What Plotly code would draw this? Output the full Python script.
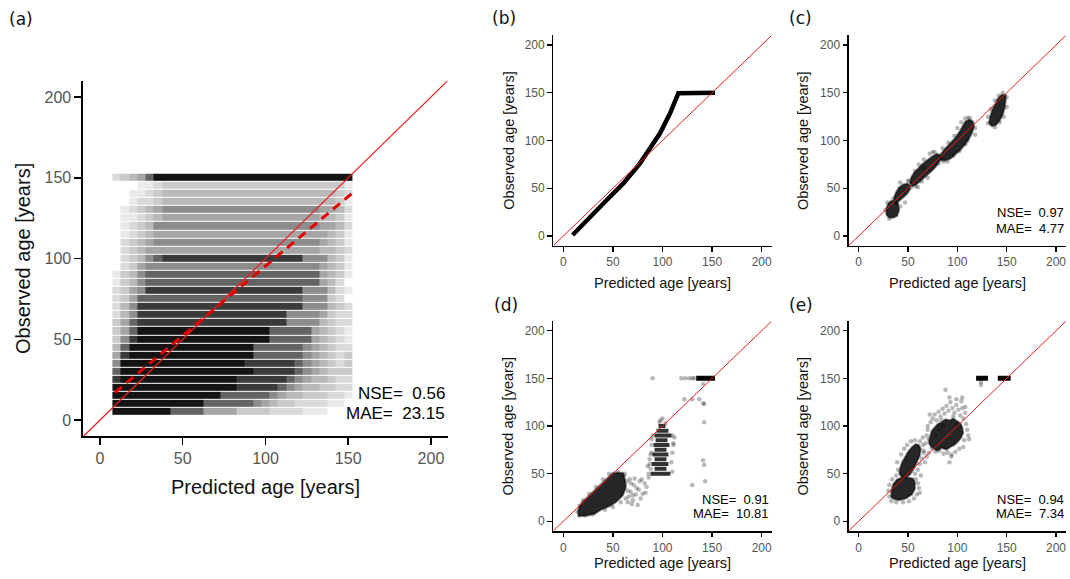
import plotly.graph_objects as go

W, H = 1070, 579

# ---------------- data ----------------
tick_vals = [0, 50, 100, 150, 200]
axis_range = [-10, 210]
one_to_one = [-10, 210]

# (a) all stands: point density per 5-year cell (0 = empty ... 9 = solid black)
a_pred_bins = [10, 15, 20, 25, 30, 35, 40, 45, 50, 55, 60, 65, 70, 75, 80,
               85, 90, 95, 100, 105, 110, 115, 120, 125, 130, 135, 140, 145, 150]
a_obs_rows = [150, 145, 140, 135, 130, 125, 120, 115, 110, 105, 100, 95, 90, 85, 80,
              75, 70, 65, 60, 55, 50, 45, 40, 35, 30, 25, 20, 15, 10, 5]
a_density = [
    "23457" "99999" "99999" "99999" "99999" "9999",
    "00011" "23333" "33333" "33333" "33333" "3331",
    "00112" "34444" "44444" "44444" "44444" "4432",
    "00122" "34444" "44444" "44444" "44444" "4431",
    "01234" "56666" "66666" "66666" "66666" "5542",
    "01123" "45555" "55555" "55555" "55555" "4431",
    "01234" "66666" "66666" "66666" "66666" "5542",
    "01234" "55555" "55555" "55555" "55555" "5431",
    "02345" "66666" "66666" "66666" "66666" "5431",
    "02345" "55555" "55555" "55555" "55555" "4432",
    "02346" "78888" "88888" "88888" "88866" "6431",
    "02356" "66666" "66666" "66666" "66666" "5431",
    "13467" "77777" "77777" "77777" "77777" "5431",
    "13467" "77777" "77777" "77777" "77777" "5420",
    "23568" "88888" "88888" "88888" "88866" "6421",
    "23577" "77777" "77777" "77777" "77766" "6320",
    "24688" "88888" "88888" "88888" "88866" "6432",
    "24688" "88888" "88888" "88888" "86666" "5322",
    "35788" "88888" "88888" "88888" "86666" "4322",
    "35799" "99999" "99999" "99997" "77775" "4321",
    "36899" "99999" "99999" "99997" "77775" "4321",
    "47999" "99999" "99999" "99777" "77765" "4322",
    "58999" "99999" "99999" "99777" "77765" "4323",
    "69999" "99999" "99999" "98888" "88765" "4323",
    "79999" "99999" "99999" "99888" "88765" "4333",
    "89999" "99999" "99999" "88888" "87654" "4322",
    "99999" "99999" "99999" "88888" "76544" "3322",
    "99999" "99999" "99977" "77776" "54433" "3221",
    "99999" "99999" "97777" "77654" "33222" "2110",
    "99999" "99777" "75555" "33332" "22211" "1000",
]
a_fit_pred = [9, 153]
a_fit_obs = [17, 141]
a_stats = ["0.56", "23.15"]

# (b) quantile-mapped curve
b_pred = [9.4, 26.9, 43.8, 60.5, 77.3, 87.4, 97.5, 107.6, 116, 153]
b_obs = [1, 20.2, 37.7, 55.1, 76.1, 91.8, 107.5, 128.5, 149.5, 150]

# (c) dense clusters (outlines) and loose points
c_blobs_pred = [
    [28, 28, 30, 33, 37, 40, 41, 39, 35, 31],
    [36, 36, 38, 41, 45, 49, 52, 52, 49, 45, 41, 38],
    [52, 53, 56, 60, 64, 69, 74, 79, 82, 83, 80, 76, 71, 66, 61, 57, 54],
    [82, 84, 88, 93, 98, 102, 105, 108, 112, 116, 117, 115, 112, 108, 103, 98, 93, 88, 84],
    [132, 133, 135, 138, 141, 145, 149, 149, 148, 146, 143, 139, 135],
]
c_blobs_obs = [
    [22, 29, 34, 37, 37, 34, 27, 21, 19, 19],
    [36, 41, 46, 51, 54, 55, 53, 49, 44, 40, 36, 34],
    [55, 61, 66, 71, 75, 79, 83, 86, 85, 80, 75, 70, 65, 60, 56, 53, 52],
    [82, 87, 92, 97, 103, 109, 114, 120, 122, 120, 115, 108, 102, 96, 90, 85, 81, 79, 79],
    [118, 124, 131, 138, 144, 148, 148, 142, 134, 127, 121, 116, 115],
]
c_pts_pred = [27, 31, 42, 35, 42, 47, 53, 51, 57, 61, 66, 72, 77, 83, 86, 70, 64, 58, 60, 66,
              81, 85, 91, 97, 100, 104, 108, 111, 113, 118, 118, 108, 102, 96, 90, 131, 131,
              134, 138, 142, 146, 150, 150, 147, 143, 138, 29, 50, 75, 110]
c_pts_obs = [27, 18, 31, 39, 56, 35, 51, 57, 68, 75, 80, 86, 88, 84, 78, 61, 57, 52, 51, 71,
             76, 92, 98, 105, 113, 119, 123, 124, 123, 113, 106, 96, 89, 84, 78, 118, 125,
             133, 142, 147, 150, 145, 135, 125, 119, 114, 35, 58, 88, 100]
c_stats = ["0.97", "4.77"]

# (d)
d_blobs_pred = [
    [15, 15, 18, 24, 30, 36, 42, 47, 50, 60, 62, 63, 60, 53, 47, 38, 32, 25, 18],
]
d_blobs_obs = [
    [5, 12, 19, 25, 31, 37, 43, 48, 51, 51, 45, 35, 27, 20, 16, 12, 8, 6, 5],
]
# horizontal rows of points (observed age, predicted-age extent)
d_row_obs = [50, 55, 60, 65, 70, 75, 80, 85, 90, 95, 100, 150]
d_row_start = [88, 92, 89, 92, 90, 92, 91, 93, 92, 94, 96, 134]
d_row_end = [108, 104, 106, 104, 106, 104, 107, 105, 109, 106, 103, 153]
d_pts_pred = [14, 16, 20, 26, 33, 40, 46, 55, 62, 64, 65, 63, 58, 50, 42, 30, 22,
              66, 68, 70, 71, 73, 75, 76, 78, 80, 82, 67, 72, 69, 77, 84, 86, 88, 87, 89, 85,
              62, 65, 74, 79, 83, 61, 70, 68,
              86, 110, 87, 109, 88, 110, 89, 111, 90, 110, 97, 103, 100, 98, 112, 111, 89,
              90, 119, 123, 127, 130, 132, 122, 130, 137, 141, 142, 141, 142, 141, 142, 143, 130]
d_pts_obs = [10, 16, 22, 29, 36, 44, 50, 52, 50, 42, 32, 24, 20, 15, 12, 7, 6,
             26, 31, 22, 38, 28, 17, 33, 24, 29, 40, 44, 45, 18, 42, 36, 46, 55, 65, 72, 58,
             38, 20, 35, 44, 30, 48, 27, 40,
             50, 52, 60, 62, 70, 72, 80, 82, 90, 90, 104, 103, 108, 106, 88, 80, 86,
             150, 150, 150, 150, 150, 150, 128, 128, 128, 124, 123, 144, 104, 64, 59, 42, 38]
d_stats = ["0.91", "10.81"]

# (e)
e_blobs_pred = [
    [33, 33, 35, 39, 44, 50, 55, 57, 57, 54, 48, 41, 36],
    [41, 42, 44, 47, 50, 54, 58, 61, 63, 62, 59, 56, 52, 48, 44],
    [71, 72, 74, 77, 80, 84, 88, 92, 96, 100, 103, 105, 106, 104, 101, 97, 93, 89, 84, 80, 76, 73],
]
e_blobs_obs = [
    [25, 32, 39, 44, 46, 46, 45, 41, 34, 28, 24, 22, 23],
    [50, 56, 62, 68, 73, 78, 81, 80, 76, 69, 62, 55, 49, 46, 46],
    [82, 88, 95, 99, 102, 104, 107, 106, 108, 105, 103, 99, 93, 88, 84, 80, 78, 75, 77, 74, 76, 79],
]
e_row_obs = [150, 150]
e_row_start = [119, 141]
e_row_end = [131, 154]
e_pts_pred = [66, 68, 69, 70, 71, 73, 75, 77, 79, 81, 83, 85, 87, 89, 91, 93, 95, 97, 99, 101,
              103, 105, 106, 108, 109, 110, 111, 112, 107, 106, 102, 98, 94, 90, 86, 82, 78, 74,
              88, 92, 99, 104, 96, 84, 108, 100, 92, 94, 82, 78, 86, 72, 70, 105,
              38, 40, 39, 43, 46, 49, 53, 57, 62, 65, 66, 64, 62, 60, 57, 58, 60, 61, 59, 56,
              51, 45, 38, 33, 31, 30, 31, 34, 62, 63, 67, 69, 71, 65, 124, 124]
e_pts_obs = [74, 82, 90, 96, 86, 104, 108, 112, 106, 115, 110, 118, 113, 121, 116, 125, 119,
             114, 122, 117, 111, 119, 108, 114, 102, 96, 90, 86, 85, 78, 76, 73, 70, 72, 71, 74,
             73, 77, 138, 130, 128, 126, 110, 106, 120, 102, 62, 68, 96, 90, 100, 112, 100, 130,
             48, 54, 62, 70, 76, 80, 84, 85, 84, 80, 72, 66, 60, 54, 50, 44, 40, 35, 28, 24,
             21, 20, 20, 21, 26, 32, 38, 44, 30, 48, 62, 68, 72, 88, 143, 146]
e_stats = ["0.94", "7.34"]

panel_letters = ["(a)", "(b)", "(c)", "(d)", "(e)"]
x_title = "Predicted age [years]"
y_title = "Observed age [years]"

# ---------------- layout geometry (pixels) ----------------
panels = {
    "a": dict(x=(83.45, 447.5), y=(80.9, 436.2), big=True),
    "b": dict(x=(553.4, 771.6), y=(35.45, 245.55), big=False),
    "c": dict(x=(848.8, 1065.9), y=(35.45, 245.55), big=False),
    "d": dict(x=(553.4, 771.6), y=(321.2, 530.8), big=False),
    "e": dict(x=(848.8, 1065.9), y=(321.2, 530.8), big=False),
}
axis_ids = {"a": ("x", "y"), "b": ("x2", "y2"), "c": ("x3", "y3"), "d": ("x4", "y4"), "e": ("x5", "y5")}

FONT = "Liberation Sans"
RED = "#ee1c1c"

fig = go.Figure()


def add(trace, key):
    xa, ya = axis_ids[key]
    trace.update(xaxis=xa, yaxis=ya, showlegend=False, hoverinfo="skip")
    fig.add_trace(trace)


# ---- (a) density cloud ----
pairs = list(zip(a_obs_rows, a_density))[::-1]
z = []
for _, s in pairs:
    s = (s + "0" * 29)[:len(a_pred_bins)]
    z.append([int(ch) if ch != "0" else None for ch in s])
gray_scale = [[0.0, "rgb(250,250,250)"], [0.111, "rgb(234,234,234)"], [0.222, "rgb(218,218,218)"],
              [0.333, "rgb(202,202,202)"], [0.444, "rgb(185,185,185)"], [0.556, "rgb(165,165,165)"],
              [0.667, "rgb(140,140,140)"], [0.778, "rgb(100,100,100)"], [0.889, "rgb(58,58,58)"],
              [1.0, "rgb(20,20,20)"]]
add(go.Heatmap(x=a_pred_bins, y=[r for r, _ in pairs], z=z, zmin=0, zmax=9,
               colorscale=gray_scale, showscale=False, ygap=1), "a")
add(go.Scatter(x=one_to_one, y=one_to_one, mode="lines", line=dict(color=RED, width=1.2)), "a")
add(go.Scatter(x=a_fit_pred, y=a_fit_obs, mode="lines",
               line=dict(color="#e60000", width=3, dash="9px,6px")), "a")

# ---- (b) ----
add(go.Scatter(x=b_pred, y=b_obs, mode="lines", line=dict(color="black", width=4.5)), "b")
add(go.Scatter(x=one_to_one, y=one_to_one, mode="lines", line=dict(color=RED, width=1)), "b")


def cloud(key, blobs_x, blobs_y, pts_x, pts_y, row_s=None, row_e=None, row_y=None):
    add(go.Scatter(x=pts_x, y=pts_y, mode="markers",
                   marker=dict(size=4.5, color="rgba(0,0,0,0.28)", line=dict(width=0))), key)
    for bx, by in zip(blobs_x, blobs_y):
        add(go.Scatter(x=bx + bx[:1], y=by + by[:1], mode="lines", fill="toself",
                       fillcolor="rgba(8,8,8,0.88)",
                       line=dict(color="rgba(0,0,0,0.45)", width=2)), key)
    if row_s:
        for s, e, yv in zip(row_s, row_e, row_y):
            add(go.Scatter(x=[s, e], y=[yv, yv], mode="lines",
                           line=dict(color="rgba(0,0,0,0.8)" if yv < 150 else "black",
                                     width=4 if yv < 150 else 5)), key)
    add(go.Scatter(x=one_to_one, y=one_to_one, mode="lines", line=dict(color=RED, width=1)), key)


cloud("c", c_blobs_pred, c_blobs_obs, c_pts_pred, c_pts_obs)
cloud("d", d_blobs_pred, d_blobs_obs, d_pts_pred, d_pts_obs, d_row_start, d_row_end, d_row_obs)
cloud("e", e_blobs_pred, e_blobs_obs, e_pts_pred, e_pts_obs, e_row_start, e_row_end, e_row_obs)

# ---- axes ----
layout = dict(width=W, height=H, margin=dict(l=0, r=0, t=0, b=0),
              paper_bgcolor="white", plot_bgcolor="white", showlegend=False)
for key, p in panels.items():
    xa, ya = axis_ids[key]
    big = p["big"]
    common = dict(range=axis_range, showline=True, linecolor="black",
                  linewidth=2 if big else 1.8, ticks="outside", ticklen=7 if big else 4.5,
                  tickwidth=1.5 if big else 1.2, tickcolor="black", tickvals=tick_vals,
                  showgrid=False, zeroline=False, fixedrange=True,
                  tickfont=dict(family=FONT, size=16 if big else 12, color="#555555"))
    xname = "xaxis" + xa[1:]
    yname = "yaxis" + ya[1:]
    layout[xname] = dict(common, domain=[p["x"][0] / W, p["x"][1] / W], anchor=ya)
    layout[yname] = dict(common, domain=[1 - p["y"][1] / H, 1 - p["y"][0] / H], anchor=xa)


def ann(text, px, py, size, color="#111111", angle=0, xanchor="center", family=FONT):
    return dict(text=text, x=px / W, y=1 - py / H, xref="paper", yref="paper",
                xanchor=xanchor, yanchor="middle", showarrow=False, textangle=angle,
                font=dict(family=family, size=size, color=color))


anns = []
letter_pos = [(21, 19), (504, 18), (800, 18), (506, 305), (800.5, 305)]
for txt, (px, py) in zip(panel_letters, letter_pos):
    anns.append(ann(txt, px, py, 17, "#111111", family="DejaVu Sans"))

title_pos = {
    "a": ((265, 487), (22.5, 258.5), 20),
    "b": ((662.5, 282.5), (508.3, 140.5), 14.5),
    "c": ((957.3, 282.5), (802.5, 140.5), 14.5),
    "d": ((662.5, 562.7), (507.5, 426), 14.5),
    "e": ((957.3, 562.7), (802.5, 426), 14.5),
}
for key, (xp, yp, sz) in title_pos.items():
    anns.append(ann(x_title, xp[0], xp[1], sz))
    anns.append(ann(y_title, yp[0], yp[1], sz, angle=-90))

stat_pos = [(a_stats, 447, 393, 413, 17), (c_stats, 1066, 213, 228, 13),
            (d_stats, 771, 499.5, 513.5, 13), (e_stats, 1066, 499.5, 513.5, 13)]
for st, rx, y1, y2, sz in stat_pos:
    anns.append(ann("NSE=\u00a0\u00a0" + st[0], rx, y1, sz, "black", xanchor="right"))
    anns.append(ann("MAE=\u00a0\u00a0" + st[1], rx, y2, sz, "black", xanchor="right"))

layout["annotations"] = anns
fig.update_layout(**layout)
fig.write_html("out.html", config={"displayModeBar": False, "staticPlot": True},
               post_script="document.body.style.margin='0px';document.body.style.overflow='hidden';")
